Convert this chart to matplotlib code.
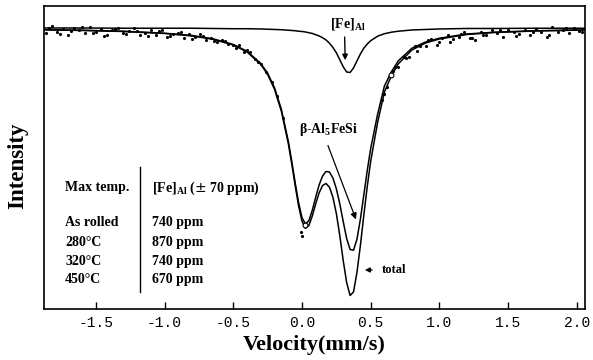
import matplotlib
matplotlib.use('Agg')
import matplotlib.pyplot as plt

# velocity grid (mm/s) for the fitted curves
vel = [-1.88, -1.6, -1.3, -1.0, -0.8, -0.65, -0.5, -0.4, -0.3, -0.25, -0.2, -0.15,
       -0.1, -0.075, -0.05, -0.025, 0.0, 0.025, 0.05, 0.075, 0.1, 0.125, 0.15, 0.175,
       0.2, 0.225, 0.25, 0.275, 0.3, 0.325, 0.35, 0.375, 0.4, 0.425, 0.45, 0.475, 0.5,
       0.55, 0.6, 0.65, 0.7, 0.8, 0.9, 1.0, 1.2, 1.4, 1.7, 2.06]

# relative transmission (%)
total = [99.93, 99.90, 99.86, 99.78, 99.68, 99.55, 99.32, 99.04, 98.54, 98.14, 97.55, 96.67,
         95.39, 94.58, 93.71, 92.89, 92.27, 91.99, 92.10, 92.48, 92.97, 93.41, 93.70, 93.78,
         93.63, 93.23, 92.58, 91.70, 90.70, 89.82, 89.30, 89.44, 90.22, 91.30, 92.51, 93.66, 94.67,
         96.21, 97.44, 98.08, 98.56, 99.12, 99.40, 99.56, 99.74, 99.82, 99.88, 99.92]

beta = [99.93, 99.91, 99.87, 99.79, 99.70, 99.57, 99.34, 99.07, 98.58, 98.19, 97.61, 96.74,
        95.48, 94.68, 93.82, 93.02, 92.41, 92.16, 92.29, 92.71, 93.24, 93.73, 94.08, 94.26,
        94.24, 94.00, 93.57, 92.97, 92.26, 91.58, 91.14, 91.11, 91.55, 92.35, 93.32, 94.30, 95.18,
        96.54, 97.68, 98.24, 98.68, 99.19, 99.44, 99.59, 99.76, 99.83, 99.89, 99.92]

fe_al = [100.00, 100.00, 99.99, 99.99, 99.99, 99.98, 99.97, 99.97, 99.96, 99.95, 99.94, 99.93,
         99.91, 99.90, 99.89, 99.87, 99.86, 99.84, 99.81, 99.78, 99.73, 99.68, 99.61, 99.52,
         99.39, 99.22, 99.01, 98.73, 98.45, 98.24, 98.22, 98.40, 98.68, 98.96, 99.19, 99.36, 99.49,
         99.67, 99.77, 99.83, 99.87, 99.92, 99.94, 99.96, 99.98, 99.98, 99.99, 99.99]

# measured points
data_v = [-1.86, -1.82, -1.78, -1.74, -1.70, -1.66, -1.62, -1.58, -1.54, -1.50, -1.46, -1.42,
          -1.38, -1.34, -1.30, -1.26, -1.22, -1.18, -1.14, -1.10, -1.06, -1.02, -0.98, -0.94,
          -0.90, -0.86, -0.82, -0.78, -0.74, -0.70, -0.66, -0.62, -0.58, -0.54, -0.50, -0.46,
          -0.42, -0.38, -0.34, -0.30, -0.26, -0.22, -0.18, -0.14, -0.01, 0.0,
          -1.84, -1.76, -1.68, -1.60, -1.52, -1.44, -1.36, -1.28, -1.20, -1.12, -1.04, -0.96,
          -0.88, -0.80, -0.72, -0.64, -0.56, -0.48, -0.40, -0.32,
          0.58, 0.62, 0.66, 0.70, 0.74, 0.78, 0.82, 0.86, 0.90, 0.94, 0.98, 1.02, 1.06, 1.10,
          1.14, 1.18, 1.22, 1.26, 1.30, 1.34, 1.38, 1.42, 1.46, 1.50, 1.54, 1.58, 1.62, 1.66,
          1.70, 1.74, 1.78, 1.82, 1.86, 1.90, 1.94, 1.98, 2.02,
          0.60, 0.68, 0.76, 0.84, 0.92, 1.00, 1.08, 1.16, 1.24, 1.32, 1.44, 1.56, 1.68, 1.80,
          1.92, 2.04]
data_T = [99.81, 100.08, 99.84, 99.96, 99.71, 99.99, 99.90, 99.78, 100.02, 99.85, 99.97, 99.72,
          99.92, 99.99, 99.78, 99.86, 100.01, 99.72, 99.79, 99.90, 99.72, 99.91, 99.62, 99.76,
          99.78, 99.60, 99.77, 99.62, 99.75, 99.52, 99.60, 99.43, 99.53, 99.35, 99.32, 99.31,
          99.03, 99.02, 98.76, 98.54, 98.24, 97.84, 97.28, 96.40, 91.84, 91.68,
          100.01, 99.76, 99.87, 100.02, 99.81, 99.68, 99.95, 99.74, 99.88, 99.66, 99.88, 99.69,
          99.85, 99.56, 99.66, 99.46, 99.46, 99.20, 99.12, 98.64,
          97.12, 97.64, 98.28, 98.44, 98.84, 98.84, 99.26, 99.26, 99.28, 99.55, 99.33, 99.58, 99.70, 99.54,
          99.65, 99.84, 99.59, 99.53, 99.82, 99.72, 99.93, 99.78, 99.64, 99.92, 99.85, 99.74, 99.91, 99.72,
          99.96, 99.84, 99.65, 100.02, 99.82, 99.90, 99.79, 99.99, 99.88,
          97.36, 98.44, 98.80, 99.08, 99.52, 99.44, 99.44, 99.74, 99.60, 99.71, 99.91, 99.66,
          99.84, 99.73, 99.99, 99.84]
open_v = [0.02, 0.65]
open_T = [92.12, 98.12]

ticks = [-1.5, -1.0, -0.5, 0.0, 0.5, 1.0, 1.5, 2.0]

samples = ['As rolled', '280°C', '320°C', '450°C']
fe_ppm = ['740 ppm', '870 ppm', '740 ppm', '670 ppm']
rows_T = [92.2, 91.4, 90.64, 89.92]

plt.rcParams['axes.unicode_minus'] = False
serif = 'Liberation Serif'

fig = plt.figure(figsize=(5.93, 3.6), dpi=100)
ax = fig.add_axes([0.0742, 0.1417, 0.9123, 0.8417])

ax.plot(vel, total, color='black', lw=1.1)
ax.plot(vel, beta, color='black', lw=1.1)
ax.plot(vel, fe_al, color='black', lw=1.1)
ax.plot(data_v, data_T, '.', color='black', ms=2.5)
ax.plot(open_v, open_T, 'o', mfc='white', mec='black', ms=3.5, mew=0.8)

ax.set_xlim(-1.878, 2.06)
ax.set_ylim(88.76, 100.88)
ax.set_xticks(ticks)
ax.set_xticklabels(['%.1f' % t for t in ticks], family='Liberation Mono', fontsize=10.5)
ax.set_yticks([])
ax.tick_params(axis='x', direction='in', length=5, width=1, pad=5)
for s in ax.spines.values():
    s.set_linewidth(1.2)

ax.set_xlabel('Velocity(mm/s)', family=serif, fontweight='bold', fontsize=16, labelpad=4)
fig.text(0.03, 0.54, 'Intensity', rotation=90, family=serif, fontweight='bold',
         fontsize=16.5, ha='center', va='center')

# peak labels
ax.annotate('', xy=(0.315, 98.6), xytext=(0.31, 99.75),
            arrowprops=dict(arrowstyle='-|>', color='black', lw=1, mutation_scale=8))
ax.text(0.33, 100.15, r'[Fe]$_{\mathregular{Al}}$', family=serif, fontweight='bold',
        fontsize=10, ha='center', va='center')
ax.annotate('', xy=(0.40, 92.24), xytext=(0.182, 95.4),
            arrowprops=dict(arrowstyle='-|>', color='black', lw=0.9, mutation_scale=9))
ax.text(0.197, 95.92, r'$\mathregular{\beta}$-Al$_{\mathregular{5}}$FeSi', family=serif,
        fontweight='bold', fontsize=10, ha='center', va='center')
ax.annotate('', xy=(0.437, 90.32), xytext=(0.53, 90.32),
            arrowprops=dict(arrowstyle='-|>', color='black', lw=1, mutation_scale=7))
ax.text(0.582, 90.32, 'total', family=serif, fontweight='bold', fontsize=9, va='center')

# table of concentrations
ax.text(-1.725, 93.6, 'Max temp.', family=serif, fontweight='bold', fontsize=10, va='center')
ax.text(-1.092, 93.6, r'[Fe]$_{\mathregular{Al}}$ ($\pm$ 70 ppm)', family=serif,
        fontweight='bold', fontsize=10, va='center')
ax.plot([-1.179, -1.179], [94.44, 89.44], color='black', lw=1)
for name, ppm, t in zip(samples, fe_ppm, rows_T):
    ax.text(-1.725, t, name, family=serif, fontweight='bold', fontsize=10, va='center')
    ax.text(-1.092, t, ppm, family=serif, fontweight='bold', fontsize=10, va='center')

fig.savefig('out.png', dpi=100)
